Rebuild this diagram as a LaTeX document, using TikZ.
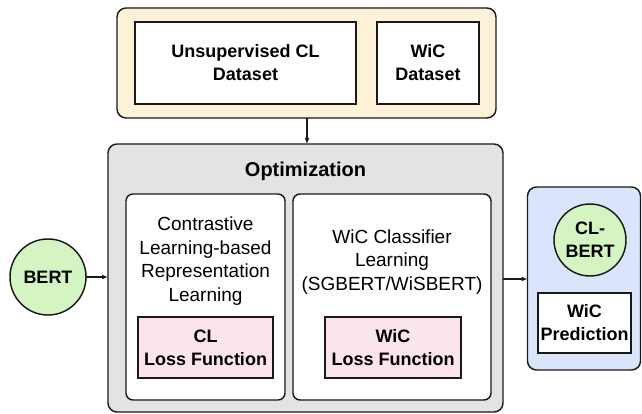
\documentclass[tikz,border=0pt]{standalone}
\usepackage{fontspec}
\setmainfont{Liberation Sans}
\usetikzlibrary{arrows.meta}
\definecolor{creamfill}{RGB}{253,241,216}
\definecolor{grayfill}{RGB}{227,227,227}
\definecolor{pinkfill}{RGB}{252,228,236}
\definecolor{greenfill}{RGB}{212,245,194}
\definecolor{bluefill}{RGB}{218,229,251}
\definecolor{edge}{RGB}{25,25,25}
\tikzset{
  base/.style={draw=edge, line width=1.45pt, inner sep=0pt, outer sep=0pt, align=center},
  outerbox/.style={base, rounded corners=9pt},
  innerbox/.style={base, rounded corners=7pt, fill=white},
  plainbox/.style={base, fill=white},
  lossbox/.style={base, fill=pinkfill},
  model/.style={base, circle, fill=greenfill},
  bodytext/.style={font=\fontsize{19}{23.5}\selectfont, align=center, inner sep=0pt},
  boldtext/.style={font=\fontsize{18}{23}\selectfont\bfseries},
  conn/.style={draw=edge, line width=1.2pt, -{Latex[length=6pt,width=5pt]}}
}
\begin{document}
\begin{tikzpicture}[x=1pt,y=-1pt]
\useasboundingbox (0,0) rectangle (642,414);
% top data box
\node[outerbox, fill=creamfill, minimum width=379pt, minimum height=110pt] (data) at (306.5,63) {};
\node[plainbox, boldtext, minimum width=221pt, minimum height=82pt] (ucl) at (245.5,63) {Unsupervised CL\\Dataset};
\node[plainbox, boldtext, minimum width=102pt, minimum height=82pt] (wicd) at (428,63) {WiC\\Dataset};
% optimization box
\node[outerbox, fill=grayfill, minimum width=395pt, minimum height=268pt] (opt) at (305.5,278) {};
\node[font=\fontsize{20}{24}\selectfont\bfseries, inner sep=0pt] (optlabel) at (305.5,171) {Optimization};
\node[innerbox, minimum width=159pt, minimum height=206pt] (cl) at (205.5,297) {};
\node[innerbox, minimum width=198pt, minimum height=206pt] (wic) at (392,297) {};
\node[bodytext] (cltext) at (205.5,261) {Contrastive\\Learning-based\\Representation\\Learning};
\node[bodytext] (wictext) at (392,262) {WiC Classifier\\Learning\\(SGBERT/WiSBERT)};
\node[lossbox, boldtext, minimum width=135pt, minimum height=61pt] (clloss) at (205.5,347.5) {CL\\Loss Function};
\node[lossbox, boldtext, minimum width=136pt, minimum height=61pt] (wicloss) at (393,347.5) {WiC\\Loss Function};
% BERT
\node[model, boldtext, minimum size=76pt] (bert) at (48,277) {BERT};
% output box
\node[outerbox, fill=bluefill, minimum width=113pt, minimum height=183pt] (out) at (584,278.5) {};
\node[model, boldtext, minimum size=72pt] (clbert) at (590,240) {CL-\\BERT};
\node[plainbox, boldtext, minimum width=93pt, minimum height=60pt] (pred) at (584.5,323) {WiC\\Prediction};
% connectors
\draw[conn] (data.south -| 307,0) -- (opt.north -| 307,0);
\draw[conn] (bert.east) -- (opt.west |- bert.east);
\draw[conn] (opt.east |- 0,279) -- (out.west |- 0,279);
\end{tikzpicture}
\end{document}
